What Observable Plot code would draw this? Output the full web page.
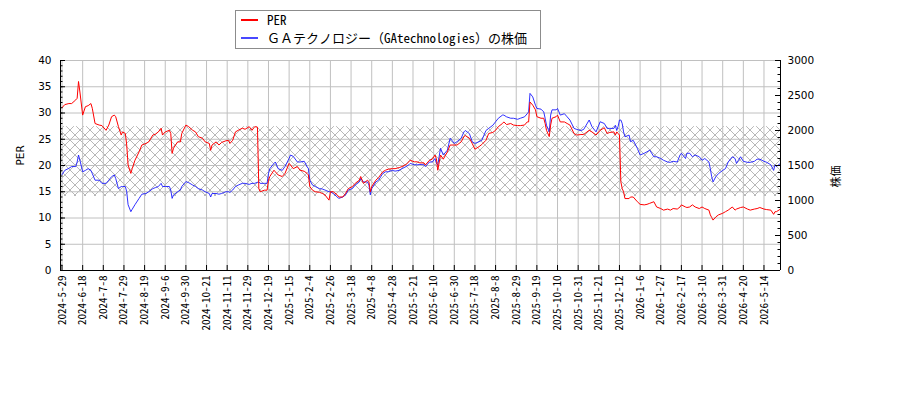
<!DOCTYPE html>
<html><head><meta charset="utf-8">
<script src="https://cdn.jsdelivr.net/npm/d3@7"></script>
<script src="https://cdn.jsdelivr.net/npm/@observablehq/plot@0.6"></script>
<style>
body{margin:0;background:#fff;}
#wrap{position:relative;width:900px;height:400px;}
#legend{position:absolute;left:235px;top:10px;width:304px;height:37px;border:1px solid #8c8c8c;background:#fff;
  font-family:"Noto Sans Mono CJK JP","DejaVu Sans Mono","Noto Sans CJK JP",monospace;font-size:13px;color:#000;}
.row{position:absolute;left:0;width:300px;height:18px;line-height:18px;white-space:nowrap;}
.sw{position:absolute;left:5px;top:8px;width:17px;height:2px;}
.lb{position:absolute;left:31px;top:0;}
</style></head>
<body>
<div id="wrap">
  <div id="chart"></div>
  <div id="legend">
    <div class="row" style="top:0px"><div class="sw" style="background:#ff0000"></div><div class="lb" id="l1"></div></div>
    <div class="row" style="top:18px"><div class="sw" style="background:#4848ff"></div><div class="lb" id="l2"></div></div>
  </div>
</div>
<script>
// ---- data (trading-day index, PER, share price in yen) ----
const idx = [0,2,5,7,10,11,12,13,15,17,19,21,22,24,27,29,32,34,36,38,39,41,43,44,46,47,48,50,51,53,56,58,61,63,66,68,70,72,73,75,78,79,80,81,84,86,87,90,92,95,97,99,102,104,107,108,109,112,114,116,119,121,122,124,126,128,131,133,
136,138,140,142,143,144,147,149,150,151,154,155,157,160,162,165,166,168,171,173,176,178,179,180,182,184,187,189,191,194,195,197,200,201,204,206,208,211,213,216,217,219,222,223,224,225,228,230,233,235,237,240,242,245,247,250,252,253,256,258,260,263,
264,267,269,271,272,273,275,277,280,282,285,287,290,292,293,296,298,300,303,305,308,310,313,315,317,320,321,323,326,328,331,333,336,338,339,340,342,344,345,348,350,351,352,354,355,356,359,360,362,365,367,369,372,374,377,379,383,385,388,391,394,
396,398,401,402,403,404,405,406,407,408,409,412,413,415,418,420,423,425,427,430,432,435,437,440,442,444,447,449,450,453,454,456,458,460,463,465,467,470,471,472,473,475,477,480,482,484,487,489,490,493,495,498,500,503,505,507,510,512,515,517,518,519,522];
const per = [31.0,31.6,31.8,31.8,32.5,32.8,36.0,34.0,29.6,31.2,31.4,31.8,30.9,28.0,27.7,27.6,26.7,27.7,29.3,29.6,29.3,27.4,25.8,26.4,26.1,23.9,20.1,18.5,19.4,21.0,22.6,23.9,24.2,24.5,25.8,26.0,26.4,27.1,25.8,26.4,26.7,26.1,22.3,23.3,24.5,24.5,26.1,27.7,27.4,26.7,26.4,25.5,25.2,24.5,24.2,22.9,23.9,24.5,23.9,24.4,24.7,24.8,24.2,24.8,26.4,26.7,27.1,26.9,
27.4,26.7,27.4,27.3,15.6,15.0,15.3,15.3,17.2,17.9,19.1,18.8,18.2,17.9,18.5,20.4,20.1,19.4,19.8,19.1,18.9,18.5,18.2,16.0,15.3,15.0,14.9,14.7,14.4,13.4,15.0,15.0,14.4,14.0,14.0,14.7,15.6,16.0,16.6,17.2,17.9,16.6,17.2,16.9,15.0,16.0,17.2,17.7,18.8,19.1,19.3,19.4,19.4,19.6,19.8,20.2,20.7,21.0,20.7,20.7,20.5,20.5,
20.1,21.0,21.2,22.0,21.3,19.1,22.0,21.2,22.6,23.9,23.9,23.9,24.5,25.5,25.7,25.2,24.2,23.1,23.6,24.0,24.8,26.1,26.3,26.7,27.4,28.0,28.3,27.8,28.0,27.7,27.6,27.6,27.7,28.3,28.3,32.1,31.5,30.6,29.3,29.0,29.0,28.0,26.7,25.5,27.7,29.0,29.3,29.6,28.3,28.3,28.0,27.7,26.1,25.8,25.9,25.9,26.7,26.4,25.8,26.7,27.2,
26.1,26.3,26.4,25.8,26.4,26.1,25.8,16.9,15.6,15.0,13.7,13.7,14.0,14.0,13.1,12.6,12.5,12.6,12.8,13.1,12.1,11.8,11.5,11.7,11.5,11.8,11.7,12.1,12.5,12.1,12.0,12.1,12.5,12.1,11.8,12.1,11.8,11.5,10.6,10.1,9.6,10.2,10.6,10.9,11.2,11.5,12.1,11.5,11.7,12.0,12.1,11.7,11.5,11.7,11.8,12.0,11.7,11.6,11.5,10.7,11.2,11.2,11.7];
const price = [1370,1430,1460,1485,1485,1550,1650,1575,1410,1430,1455,1430,1385,1290,1290,1245,1245,1290,1340,1365,1315,1170,1200,1200,1200,1125,940,840,875,940,1030,1090,1100,1125,1170,1185,1200,1245,1200,1200,1200,1150,1030,1080,1125,1150,1200,1270,1255,1220,1200,1170,1150,1125,1100,1050,1100,1100,1090,1100,1125,1125,1115,1150,1200,1220,1245,1245,
1230,1245,1245,1260,1265,1245,1245,1245,1385,1455,1530,1550,1455,1430,1485,1600,1650,1630,1550,1550,1560,1485,1455,1290,1220,1200,1170,1165,1150,1125,1125,1100,1050,1030,1050,1080,1150,1170,1220,1265,1315,1265,1265,1220,1080,1170,1265,1290,1385,1410,1410,1430,1420,1430,1455,1485,1510,1530,1510,1510,1515,1510,
1485,1550,1550,1600,1530,1510,1745,1650,1720,1890,1815,1840,1890,1980,2000,1955,1840,1815,1840,1860,2000,2030,2075,2125,2175,2220,2220,2195,2175,2175,2160,2175,2195,2240,2265,2530,2480,2360,2315,2305,2265,2175,2075,1980,2220,2295,2295,2315,2220,2240,2195,2150,2030,2015,2000,2015,2150,2055,1980,2125,2100,
2030,2030,2030,2075,2000,2055,2150,2150,2100,1980,1910,1935,1840,1860,1745,1650,1675,1695,1720,1625,1625,1600,1575,1550,1545,1560,1550,1650,1675,1600,1675,1675,1625,1650,1625,1575,1600,1550,1455,1340,1265,1340,1385,1430,1455,1550,1625,1600,1530,1625,1560,1545,1545,1560,1590,1590,1560,1545,1510,1430,1510,1485,1530];

const tickIdx = d3.range(0, 511, 15);
const tickLabels = ["2024-5-29","2024-6-18","2024-7-8","2024-7-29","2024-8-19","2024-9-6","2024-9-30","2024-10-21","2024-11-11","2024-11-29","2024-12-19","2025-1-15","2025-2-4","2025-2-26","2025-3-18","2025-4-8","2025-4-28","2025-5-21","2025-6-10","2025-6-30","2025-7-18","2025-8-8","2025-8-29","2025-9-19","2025-10-10","2025-10-31","2025-11-21","2025-12-12","2026-1-6","2026-1-27","2026-2-17","2026-3-10","2026-3-31","2026-4-20","2026-5-14"];
const perTicks = d3.range(0, 41, 5);
const perMinor = d3.range(0, 41, 1);
const priceTicks = d3.range(0, 3001, 500);
const priceMinor = d3.range(0, 3001, 100);
const band = [14.1, 27.4];
const seriesNames = ["PER", "ＧＡテクノロジー（GAtechnologies）の株価"];
const axisTitles = ["PER", "株価"];

// ---- build ----
const PRICE_MAX = 3000, PER_MAX = 40, K = PRICE_MAX / PER_MAX;
const rows = idx.map((i, k) => ({i, per: per[k], price: price[k]}));
const xDomain = [-1.1, 522];
const labelOf = new Map(tickIdx.map((t, k) => [t, tickLabels[k]]));
const mono = "'Noto Sans Mono CJK JP','DejaVu Sans Mono',monospace";

document.getElementById("l1").textContent = seriesNames[0];
document.getElementById("l2").textContent = seriesNames[1];

const chart = Plot.plot({
  width: 900, height: 400,
  marginLeft: 60, marginRight: 120, marginTop: 60, marginBottom: 130,
  x: {domain: xDomain},
  y: {domain: [0, PER_MAX]},
  style: {background: "transparent", fontFamily: "DejaVu Sans", fontSize: "10.5px", color: "#000", overflow: "visible"},
  marks: [
    Plot.rect([band], {x1: () => xDomain[0], x2: () => xDomain[1], y1: d => d[0], y2: d => d[1], fill: "url(#hatch)"}),
    Plot.gridY(perTicks, {stroke: "#c0c0c0", strokeOpacity: 1, strokeWidth: 1}),
    Plot.gridX(tickIdx, {stroke: "#c0c0c0", strokeOpacity: 1, strokeWidth: 1}),
    Plot.line(rows, {x: "i", y: d => d.price / K, stroke: "#1a1aff", strokeWidth: 0.9}),
    Plot.line(rows, {x: "i", y: "per", stroke: "#ff0000", strokeWidth: 1}),
    Plot.ruleX([xDomain[0], xDomain[1]], {stroke: "#000", strokeWidth: 1}),
    Plot.ruleY([0], {stroke: "#000", strokeWidth: 1}),
    Plot.tickY(perTicks, {y: d => d, insetRight: 715, stroke: "#000"}),
    Plot.tickY(perMinor, {y: d => d, insetRight: 717.5, stroke: "#000"}),
    Plot.tickY(priceTicks.map(v => v / K), {y: d => d, insetLeft: 715, stroke: "#000"}),
    Plot.tickY(priceMinor.map(v => v / K), {y: d => d, insetLeft: 717.5, stroke: "#000"}),
    Plot.tickX(tickIdx, {x: d => d, insetTop: 205, stroke: "#000"}),
    Plot.axisY(perTicks, {anchor: "left", tickSize: 0, tickPadding: 9, label: null, fontSize: 10.5}),
    Plot.axisY(priceTicks.map(v => v / K), {anchor: "right", tickSize: 0, tickPadding: 7, label: null, tickFormat: v => String(Math.round(v * K)), fontSize: 10.5}),
    Plot.axisX(tickIdx, {anchor: "bottom", tickSize: 0, tickPadding: 5, tickRotate: -90, label: null, tickFormat: d => labelOf.get(d), fontFamily: mono, fontSize: 11}),
    Plot.text([axisTitles[0]], {frameAnchor: "left", dx: -40, rotate: -90, fontSize: 10.5, fill: "#000"}),
    Plot.text([axisTitles[1]], {frameAnchor: "right", dx: 56, rotate: -90, fontSize: 11, fontFamily: "'Noto Sans CJK JP'", fill: "#000"})
  ]
});

const ns = "http://www.w3.org/2000/svg";
const defs = document.createElementNS(ns, "defs");
defs.innerHTML = '<pattern id="hatch" patternUnits="userSpaceOnUse" width="10" height="10"><path d="M0,0L10,10M10,0L0,10" stroke="#9a9a9a" stroke-width="0.7" fill="none"/></pattern>';
chart.insertBefore(defs, chart.firstChild);
document.getElementById("chart").appendChild(chart);
</script>
</body></html>
